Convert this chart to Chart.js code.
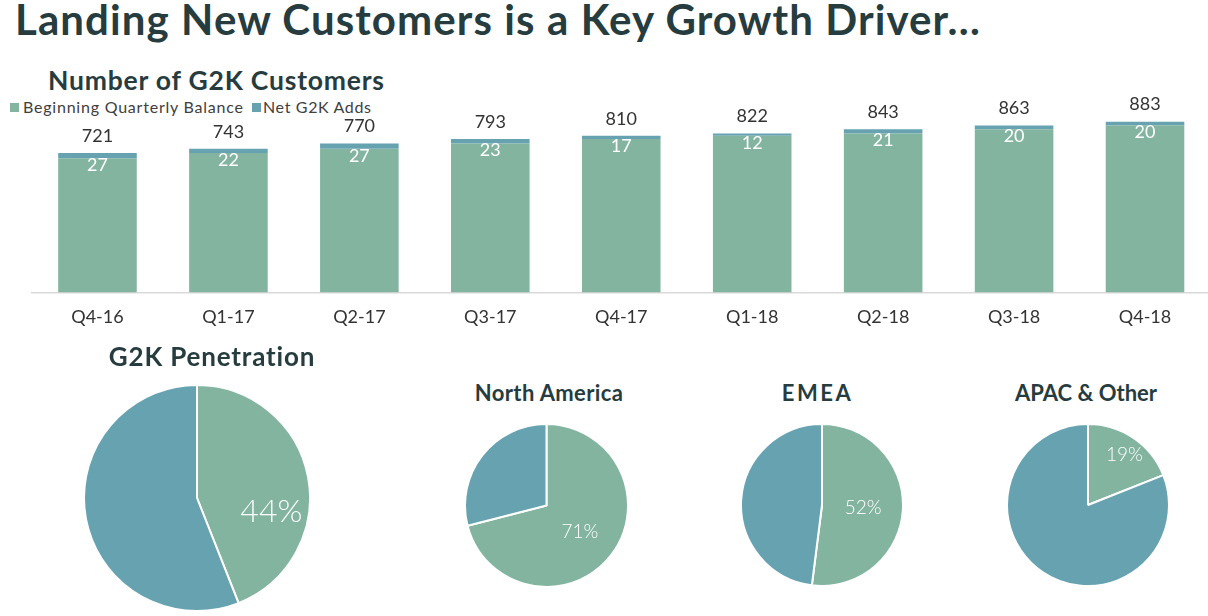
<!DOCTYPE html>
<html>
<head>
<meta charset="utf-8">
<script src="https://cdn.jsdelivr.net/npm/chart.js@4.4.1/dist/chart.umd.min.js"></script>
<style>
  html, body { margin:0; padding:0; background:#fff; }
  body { width:1208px; height:616px; overflow:hidden; position:relative; font-family:Lato, "Open Sans", sans-serif; color:#263c3e; }
  .t { position:absolute; white-space:nowrap; line-height:1.2; font-weight:700; }
  .c { transform:translateX(-50%); }
  canvas { position:absolute; }
  .sq { position:absolute; width:9px; height:9px; }
  .lg { position:absolute; white-space:nowrap; line-height:1.2; font-size:16px; color:#404040; }
</style>
</head>
<body>
<div class="t fit" data-w="965" style="left:15px; top:-6.5px; font-size:42px;">Landing New Customers is a Key Growth Driver…</div>
<div class="t fit" data-w="336" style="left:48px; top:64.5px; font-size:26.5px;">Number of G2K Customers</div>
<div class="sq" style="left:10px; top:103px; background:#82B4A0;"></div>
<div class="lg fit" data-w="220" style="left:23px; top:97px;">Beginning Quarterly Balance</div>
<div class="sq" style="left:252px; top:103px; background:#67A2B1;"></div>
<div class="lg fit" data-w="108" style="left:263px; top:97px;">Net G2K Adds</div>

<canvas id="bar" style="left:0; top:60px;" width="1240" height="282"></canvas>

<div id="pieTitles"></div>
<canvas id="pie0"></canvas>
<canvas id="pie1"></canvas>
<canvas id="pie2"></canvas>
<canvas id="pie3"></canvas>

<script>
// ---------- DATA ----------
const quarters = ['Q4-16','Q1-17','Q2-17','Q3-17','Q4-17','Q1-18','Q2-18','Q3-18','Q4-18'];
const beginningBalance = [694, 721, 743, 770, 793, 810, 822, 843, 863];
const netAdds = [27, 22, 27, 23, 17, 12, 21, 20, 20];
const totals = [721, 743, 770, 793, 810, 822, 843, 863, 883];

const pieTitles = ['G2K Penetration', 'North America', 'EMEA', 'APAC & Other'];
const pieShares = [44, 71, 52, 19];

// ---------- STYLE ----------
const GREEN = '#82B4A0';
const BLUE = '#67A2B1';
const FONT = 'Lato, "Open Sans", sans-serif';

Chart.defaults.font.family = FONT;
Chart.defaults.animation = false;

const barLabels = {
  id: 'barLabels',
  afterDatasetsDraw(chart) {
    const ctx = chart.ctx;
    const m0 = chart.getDatasetMeta(0), m1 = chart.getDatasetMeta(1);
    ctx.save();
    ctx.textAlign = 'center';
    ctx.textBaseline = 'middle';
    ctx.font = '400 18px ' + FONT;
    m1.data.forEach((el, i) => {
      ctx.fillStyle = '#333';
      ctx.fillText(String(totals[i]), el.x, el.y - 17);
      ctx.fillStyle = '#ffffff';
      ctx.fillText(String(netAdds[i]), el.x, m0.data[i].y + 7);
    });
    ctx.restore();
  }
};

new Chart(document.getElementById('bar'), {
  type: 'bar',
  data: {
    labels: quarters,
    datasets: [
      { label: 'Beginning Quarterly Balance', data: beginningBalance, backgroundColor: GREEN },
      { label: 'Net G2K Adds', data: netAdds, backgroundColor: BLUE }
    ]
  },
  options: {
    responsive: false,
    layout: { padding: { left: 32, right: 29.5, top: 39, bottom: 0 } },
    barPercentage: 0.6,
    categoryPercentage: 1,
    plugins: { legend: { display: false }, tooltip: { enabled: false } },
    scales: {
      x: {
        stacked: true,
        grid: { display: false, drawTicks: false },
        border: { display: true, color: '#d9d9d9', width: 1.5 },
        ticks: { color: '#333', font: { size: 18 }, padding: 14 }
      },
      y: { stacked: true, display: false, min: 0, max: 1000 }
    }
  },
  plugins: [barLabels]
});

// ---------- PIES ----------
const pieGeom = [
  { cx: 197, cy: 497.5, r: 113, tx: 212, ty: 341, ts: 26, tw: 206, ls: 32, lf: 0.67, shift: 21.6 },
  { cx: 546, cy: 505.3, r: 81.3, tx: 549, ty: 380, ts: 22, tw: 148, ls: 19, lf: 0.52, shift: 0 },
  { cx: 822, cy: 505, r: 81, tx: 817.5, ty: 380, ts: 22, tw: 69, ls: 19, lf: 0.51, shift: 0 },
  { cx: 1088, cy: 505, r: 81, tx: 1086, ty: 380, ts: 22, tw: 142, ls: 19, lf: 0.76, shift: 2 }
];

const pieLabel = {
  id: 'pieLabel',
  afterDatasetsDraw(chart, args, opts) {
    const el = chart.getDatasetMeta(0).data[0];
    const mid = (el.startAngle + el.endAngle) / 2 + opts.shift * Math.PI / 180;
    const x = el.x + Math.cos(mid) * el.outerRadius * opts.lf;
    const y = el.y + Math.sin(mid) * el.outerRadius * opts.lf;
    const ctx = chart.ctx;
    ctx.save();
    ctx.font = '300 ' + opts.size + 'px ' + FONT;
    ctx.fillStyle = '#ffffff';
    ctx.textAlign = 'center';
    ctx.textBaseline = 'middle';
    ctx.fillText(opts.text, x, y);
    ctx.restore();
  }
};

const titleHost = document.getElementById('pieTitles');
pieShares.forEach((share, i) => {
  const g = pieGeom[i];
  const d = document.createElement('div');
  d.className = 't c fit';
  d.dataset.w = g.tw;
  d.style.left = g.tx + 'px';
  d.style.top = g.ty + 'px';
  d.style.fontSize = g.ts + 'px';
  d.textContent = pieTitles[i];
  titleHost.appendChild(d);

  const bw = 2;
  const size = Math.round(2 * g.r + bw);
  const cv = document.getElementById('pie' + i);
  cv.width = size; cv.height = size;
  cv.style.left = (g.cx - size / 2) + 'px';
  cv.style.top = (g.cy - size / 2) + 'px';
  new Chart(cv, {
    type: 'pie',
    data: {
      labels: ['G2K', 'Other'],
      datasets: [{ data: [share, 100 - share], backgroundColor: [GREEN, BLUE], borderColor: '#ffffff', borderWidth: bw }]
    },
    options: {
      responsive: false,
      layout: { padding: 0 },
      plugins: {
        legend: { display: false }, tooltip: { enabled: false },
        pieLabel: { text: share + '%', size: g.ls, lf: g.lf, shift: g.shift }
      }
    },
    plugins: [pieLabel]
  });
});

// widen text with letter-spacing to match the reference's wider typeface
function fitText() {
  document.querySelectorAll('.fit').forEach(el => {
    el.style.letterSpacing = '0px';
    const w = el.getBoundingClientRect().width;
    const n = el.textContent.length;
    const target = parseFloat(el.dataset.w);
    const ls = (target - w) / Math.max(n - 1, 1);
    el.style.letterSpacing = ls.toFixed(2) + 'px';
  });
}
fitText();
if (document.fonts && document.fonts.ready) document.fonts.ready.then(fitText);
</script>
</body>
</html>
